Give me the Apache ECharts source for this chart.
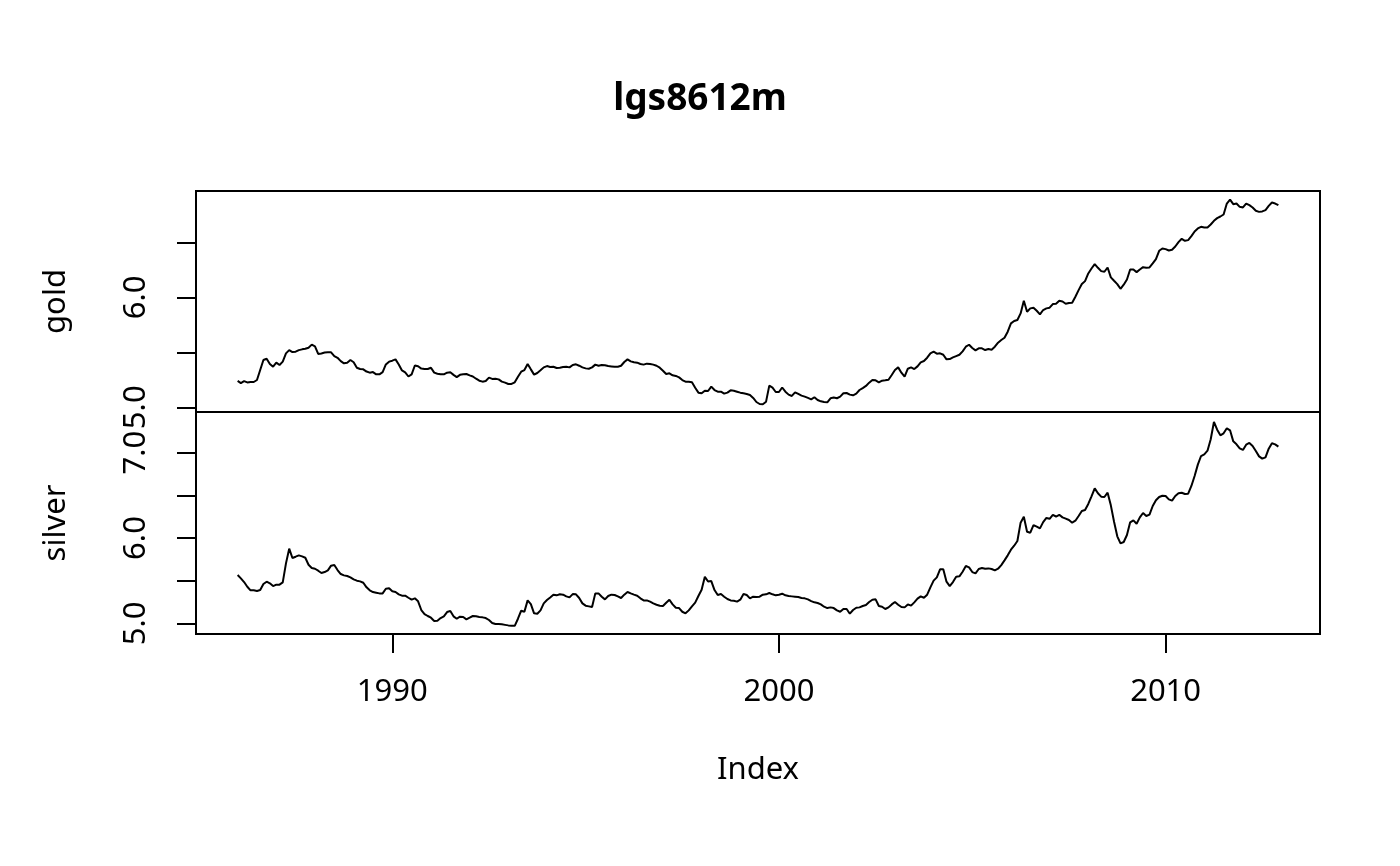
<!DOCTYPE html>
<html>
	<head>
		<meta charset="UTF-8">
		<title>lgs8612m</title>
		<script src="https://cdn.jsdelivr.net/npm/echarts@6/dist/echarts.min.js"></script>
		<style>
			html, body { margin: 0; padding: 0; background: #fff; }
			#chart { width: 1400px; height: 866px; }
		</style>
	</head>
	<body>
		<div id="chart"></div>
		<script type="text/javascript">
			// monthly series, Jan 1986 .. Dec 2012, one row per year
			var startYear = 1986;

			var gold = [
				5.240, 5.220, 5.238, 5.226, 5.230, 5.230, 5.248, 5.339, 5.430, 5.442, 5.394, 5.369,
				5.406, 5.385, 5.415, 5.490, 5.520, 5.502, 5.506, 5.520, 5.527, 5.532, 5.542, 5.570,
				5.555, 5.485, 5.490, 5.498, 5.500, 5.500, 5.466, 5.450, 5.420, 5.400, 5.405, 5.430,
				5.410, 5.360, 5.348, 5.345, 5.325, 5.315, 5.320, 5.300, 5.300, 5.320, 5.390, 5.415,
				5.424, 5.436, 5.390, 5.335, 5.317, 5.280, 5.300, 5.380, 5.373, 5.352, 5.348, 5.348,
				5.360, 5.315, 5.305, 5.300, 5.300, 5.315, 5.318, 5.295, 5.275, 5.295, 5.300, 5.303,
				5.290, 5.280, 5.260, 5.242, 5.233, 5.239, 5.270, 5.258, 5.260, 5.254, 5.233, 5.224,
				5.212, 5.212, 5.227, 5.278, 5.324, 5.339, 5.394, 5.345, 5.297, 5.312, 5.336, 5.363,
				5.375, 5.366, 5.369, 5.357, 5.360, 5.366, 5.369, 5.363, 5.385, 5.391, 5.378, 5.363,
				5.354, 5.351, 5.363, 5.388, 5.378, 5.385, 5.382, 5.375, 5.372, 5.369, 5.369, 5.378,
				5.412, 5.436, 5.418, 5.409, 5.406, 5.394, 5.388, 5.397, 5.394, 5.388, 5.378, 5.360,
				5.333, 5.303, 5.309, 5.291, 5.285, 5.272, 5.248, 5.233, 5.233, 5.227, 5.178, 5.133,
				5.127, 5.151, 5.148, 5.188, 5.157, 5.142, 5.142, 5.124, 5.133, 5.154, 5.151, 5.142,
				5.133, 5.127, 5.121, 5.112, 5.085, 5.048, 5.030, 5.028, 5.051, 5.197, 5.178, 5.139,
				5.139, 5.180, 5.142, 5.115, 5.103, 5.136, 5.121, 5.106, 5.097, 5.085, 5.072, 5.091,
				5.066, 5.054, 5.048, 5.045, 5.082, 5.088, 5.082, 5.097, 5.127, 5.130, 5.115, 5.109,
				5.124, 5.157, 5.175, 5.194, 5.224, 5.248, 5.245, 5.227, 5.242, 5.245, 5.251, 5.294,
				5.339, 5.363, 5.315, 5.278, 5.351, 5.363, 5.348, 5.372, 5.409, 5.421, 5.451, 5.491,
				5.506, 5.488, 5.491, 5.478, 5.436, 5.439, 5.454, 5.466, 5.478, 5.509, 5.551, 5.569,
				5.539, 5.518, 5.536, 5.536, 5.521, 5.530, 5.524, 5.551, 5.588, 5.612, 5.633, 5.688,
				5.763, 5.785, 5.794, 5.854, 5.969, 5.869, 5.900, 5.906, 5.878, 5.845, 5.885, 5.900,
				5.906, 5.939, 5.942, 5.969, 5.963, 5.942, 5.948, 5.951, 6.006, 6.066, 6.121, 6.148,
				6.218, 6.263, 6.303, 6.269, 6.239, 6.233, 6.272, 6.182, 6.151, 6.121, 6.078, 6.115,
				6.163, 6.254, 6.254, 6.230, 6.254, 6.275, 6.269, 6.272, 6.309, 6.348, 6.424, 6.445,
				6.439, 6.427, 6.433, 6.463, 6.503, 6.533, 6.515, 6.521, 6.557, 6.600, 6.627, 6.642,
				6.636, 6.636, 6.663, 6.697, 6.721, 6.736, 6.754, 6.854, 6.890, 6.848, 6.854, 6.824,
				6.818, 6.854, 6.839, 6.818, 6.788, 6.778, 6.782, 6.794, 6.833, 6.863, 6.854, 6.839
			];

			var silver = [
				5.566, 5.527, 5.484, 5.429, 5.387, 5.387, 5.379, 5.390, 5.461, 5.488, 5.469, 5.437,
				5.453, 5.453, 5.480, 5.703, 5.875, 5.766, 5.781, 5.797, 5.785, 5.769, 5.687, 5.648,
				5.640, 5.617, 5.590, 5.601, 5.621, 5.676, 5.683, 5.625, 5.578, 5.562, 5.555, 5.539,
				5.515, 5.500, 5.492, 5.476, 5.422, 5.387, 5.367, 5.359, 5.351, 5.351, 5.406, 5.410,
				5.375, 5.367, 5.340, 5.324, 5.324, 5.300, 5.277, 5.293, 5.258, 5.156, 5.109, 5.086,
				5.066, 5.027, 5.031, 5.062, 5.082, 5.132, 5.144, 5.082, 5.054, 5.078, 5.074, 5.047,
				5.066, 5.086, 5.082, 5.074, 5.070, 5.062, 5.039, 5.004, 4.992, 4.992, 4.988, 4.982,
				4.976, 4.973, 4.971, 5.054, 5.148, 5.136, 5.269, 5.226, 5.117, 5.113, 5.152, 5.234,
				5.273, 5.304, 5.336, 5.328, 5.340, 5.336, 5.316, 5.304, 5.343, 5.340, 5.297, 5.234,
				5.207, 5.199, 5.191, 5.351, 5.351, 5.312, 5.281, 5.320, 5.336, 5.332, 5.316, 5.297,
				5.336, 5.367, 5.351, 5.336, 5.324, 5.293, 5.269, 5.269, 5.254, 5.234, 5.218, 5.207,
				5.203, 5.242, 5.277, 5.222, 5.183, 5.179, 5.136, 5.117, 5.152, 5.199, 5.242, 5.320,
				5.394, 5.545, 5.490, 5.495, 5.390, 5.332, 5.343, 5.312, 5.285, 5.269, 5.265, 5.254,
				5.277, 5.343, 5.332, 5.293, 5.312, 5.308, 5.312, 5.336, 5.340, 5.355, 5.340, 5.328,
				5.336, 5.347, 5.328, 5.320, 5.316, 5.312, 5.308, 5.297, 5.293, 5.281, 5.261, 5.246,
				5.238, 5.222, 5.195, 5.179, 5.187, 5.179, 5.152, 5.136, 5.168, 5.168, 5.113, 5.156,
				5.183, 5.187, 5.203, 5.215, 5.250, 5.277, 5.281, 5.203, 5.195, 5.168, 5.187, 5.222,
				5.250, 5.218, 5.191, 5.187, 5.222, 5.207, 5.246, 5.289, 5.316, 5.300, 5.336, 5.422,
				5.500, 5.539, 5.633, 5.633, 5.488, 5.437, 5.484, 5.547, 5.551, 5.605, 5.672, 5.656,
				5.601, 5.586, 5.637, 5.648, 5.640, 5.644, 5.637, 5.621, 5.640, 5.683, 5.738, 5.797,
				5.863, 5.910, 5.965, 6.180, 6.250, 6.074, 6.062, 6.152, 6.133, 6.113, 6.186, 6.235,
				6.225, 6.271, 6.252, 6.272, 6.242, 6.227, 6.211, 6.180, 6.203, 6.258, 6.317, 6.328,
				6.399, 6.489, 6.582, 6.524, 6.485, 6.481, 6.531, 6.383, 6.191, 6.020, 5.938, 5.953,
				6.035, 6.184, 6.207, 6.168, 6.242, 6.293, 6.258, 6.274, 6.375, 6.442, 6.481, 6.496,
				6.492, 6.453, 6.438, 6.492, 6.524, 6.531, 6.516, 6.520, 6.610, 6.727, 6.860, 6.961,
				6.981, 7.024, 7.157, 7.360, 7.270, 7.204, 7.227, 7.286, 7.262, 7.133, 7.098, 7.051,
				7.032, 7.094, 7.114, 7.079, 7.020, 6.957, 6.930, 6.946, 7.047, 7.110, 7.098, 7.071
			];

			var xTicks = [1990, 2000, 2010];
			var goldTicks = [5.0, 5.5, 6.0, 6.5];
			var goldLabels = [5.0, 6.0];
			var silverTicks = [5.0, 5.5, 6.0, 6.5, 7.0];
			var silverLabels = [5.0, 6.0, 7.0];

			function toPoints(vals) {
				return vals.map(function (v, i) { return [startYear + i / 12, v]; });
			}

			var font = 'Noto Sans';
			var txt = { color: '#000', fontFamily: font, fontSize: 31 };

			function yAxisFor(gridIndex, name, min, max, ticks, labels) {
				return {
					type: 'value',
					gridIndex: gridIndex,
					min: min,
					max: max,
					name: name,
					nameLocation: 'middle',
					nameGap: 124,
					nameTextStyle: txt,
					splitLine: { show: false },
					axisLine: { show: false },
					axisTick: {
						show: true,
						length: 19,
						customValues: ticks,
						lineStyle: { color: '#000', width: 2 }
					},
					axisLabel: {
						customValues: labels,
						rotate: 90,
						margin: 44,
						color: '#000',
						fontFamily: font,
						fontSize: 31,
						formatter: function (v) { return v.toFixed(1); }
					}
				};
			}

			var option = {
				animation: false,
				backgroundColor: '#fff',
				title: {
					text: 'lgs8612m',
					left: 'center',
					top: 76,
					textStyle: { color: '#000', fontFamily: font, fontSize: 37, fontWeight: 'bold' }
				},
				grid: [
					{ left: 196, top: 191, width: 1124, height: 221, show: true, borderColor: '#000', borderWidth: 2 },
					{ left: 196, top: 412, width: 1124, height: 222, show: true, borderColor: '#000', borderWidth: 2 }
				],
				xAxis: [
					{ type: 'value', gridIndex: 0, min: 1984.923, max: 2013.993, show: false },
					{
						type: 'value',
						gridIndex: 1,
						min: 1984.923,
						max: 2013.993,
						name: 'Index',
						nameLocation: 'middle',
						nameGap: 121,
						nameTextStyle: txt,
						splitLine: { show: false },
						axisLine: { show: false },
						axisTick: {
							show: true,
							length: 19,
							customValues: xTicks,
							lineStyle: { color: '#000', width: 2 }
						},
						axisLabel: {
							customValues: xTicks,
							margin: 43,
							color: '#000',
							fontFamily: font,
							fontSize: 31,
							formatter: function (v) { return String(v); }
						}
					}
				],
				yAxis: [
					yAxisFor(0, 'gold', 4.957, 6.968, goldTicks, goldLabels),
					yAxisFor(1, 'silver', 4.875, 7.477, silverTicks, silverLabels)
				],
				series: [
					{
						name: 'gold',
						type: 'line',
						xAxisIndex: 0,
						yAxisIndex: 0,
						data: toPoints(gold),
						showSymbol: false,
						lineStyle: { color: '#000', width: 2 }
					},
					{
						name: 'silver',
						type: 'line',
						xAxisIndex: 1,
						yAxisIndex: 1,
						data: toPoints(silver),
						showSymbol: false,
						lineStyle: { color: '#000', width: 2 }
					}
				]
			};

			var chart = echarts.init(document.getElementById('chart'));
			chart.setOption(option);
		</script>
	</body>
</html>
